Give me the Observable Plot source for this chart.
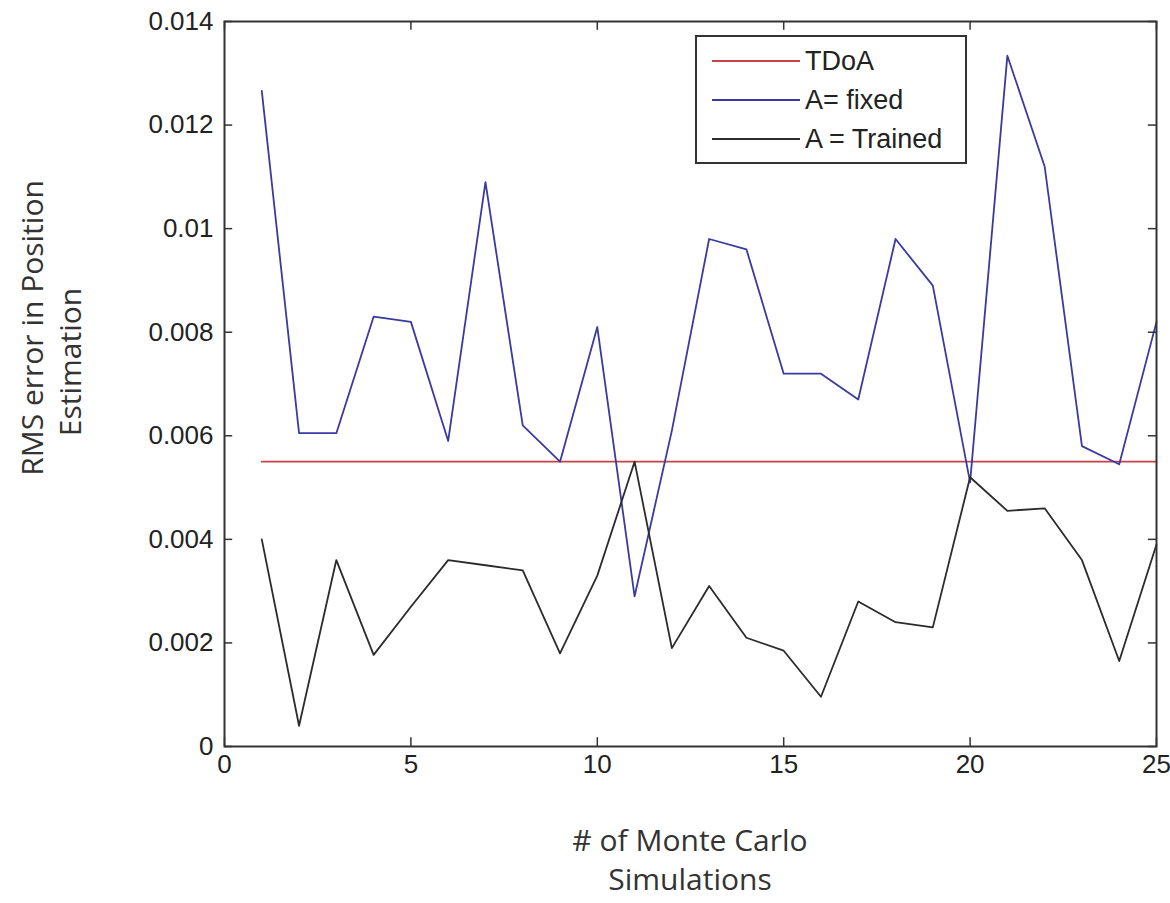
<!DOCTYPE html>
<html>
<head>
<meta charset="utf-8">
<script src="https://cdn.jsdelivr.net/npm/d3@7"></script>
<script src="https://cdn.jsdelivr.net/npm/@observablehq/plot@0.6"></script>
<style>
  body { margin: 0; background: #fff; }
  #wrap { position: relative; width: 1170px; height: 903px; overflow: hidden; }
  #wrap > svg { position: absolute; left: 0; top: 0; }
  #labels { position: absolute; left: 0; top: 0; pointer-events: none; }
  #legend { position: absolute; left: 695px; top: 35px; width: 268px; height: 125px; border: 2px solid #333; background: #fff; font-family: "Liberation Sans", Arial, sans-serif; font-size: 27px; color: #222; }
  #legend .row { position: absolute; left: 15px; height: 40px; display: flex; align-items: center; white-space: nowrap; }
  #legend .sw { width: 88px; height: 0; border-top: 2px solid; margin-right: 5px; }
</style>
</head>
<body>
<div id="wrap"></div>
<script>
const sims = [1,2,3,4,5,6,7,8,9,10,11,12,13,14,15,16,17,18,19,20,21,22,23,24,25];
const tdoa = [0.0055,0.0055,0.0055,0.0055,0.0055,0.0055,0.0055,0.0055,0.0055,0.0055,0.0055,0.0055,0.0055,0.0055,0.0055,0.0055,0.0055,0.0055,0.0055,0.0055,0.0055,0.0055,0.0055,0.0055,0.0055];
const fixedA = [0.01266,0.00605,0.00605,0.0083,0.0082,0.0059,0.0109,0.0062,0.0055,0.0081,0.0029,0.0061,0.0098,0.0096,0.0072,0.0072,0.0067,0.0098,0.0089,0.0051,0.01334,0.0112,0.0058,0.00545,0.0082];
const trainedA = [0.0040,0.0004,0.0036,0.00177,0.0027,0.0036,0.0035,0.0034,0.0018,0.0033,0.0055,0.0019,0.0031,0.0021,0.00185,0.00096,0.0028,0.0024,0.0023,0.0052,0.00455,0.0046,0.0036,0.00165,0.0039];
const seriesNames = ["TDoA", "A= fixed", "A = Trained"];
const seriesColors = ["#c8404a", "#3a3aa0", "#2b2b2b"];
const xTicks = [0,5,10,15,20,25];
const yTicks = [0,0.002,0.004,0.006,0.008,0.01,0.012,0.014];
const xLabel = ["# of Monte Carlo", "Simulations"];
const yLabel = ["RMS error in Position", "Estimation"];

const rows = [];
[tdoa, fixedA, trainedA].forEach((arr, k) => arr.forEach((v, i) => rows.push({sim: sims[i], value: v, series: seriesNames[k]})));

const fmt = d => String(+d.toFixed(3));
const tickLenX = 0.22;      // x-units for y-axis inward ticks
const tickLenY = 0.00017;   // y-units for x-axis inward ticks

const chart = Plot.plot({
  width: 1170,
  height: 903,
  marginLeft: 224,
  marginRight: 14,
  marginTop: 21,
  marginBottom: 157,
  style: {fontFamily: "'Liberation Sans', Arial, sans-serif", fontSize: "26px", color: "#222", background: "transparent"},
  x: {domain: [0, 25]},
  y: {domain: [0, 0.014]},
  color: {domain: seriesNames, range: seriesColors},
  marks: [
    Plot.axisX({ticks: xTicks, tickSize: 0, tickPadding: 8, tickFormat: fmt, label: null, fontSize: 26}),
    Plot.axisY({ticks: yTicks, tickSize: 0, tickPadding: 11, tickFormat: fmt, label: null, fontSize: 26}),
    Plot.line(rows, {x: "sim", y: "value", z: "series", stroke: "series", strokeWidth: 1.8}),
    Plot.ruleX(xTicks, {x: d => d, y1: 0, y2: tickLenY, stroke: "#333", strokeWidth: 1.5}),
    Plot.ruleX(xTicks, {x: d => d, y1: 0.014, y2: 0.014 - tickLenY, stroke: "#333", strokeWidth: 1.5}),
    Plot.ruleY(yTicks, {y: d => d, x1: 0, x2: tickLenX, stroke: "#333", strokeWidth: 1.5}),
    Plot.ruleY(yTicks, {y: d => d, x1: 25, x2: 25 - tickLenX, stroke: "#333", strokeWidth: 1.5}),
    Plot.frame({stroke: "#333", strokeWidth: 2})
  ]
});
const wrap = document.getElementById("wrap");
wrap.appendChild(chart);

// Axis titles (overlay text)
const ns = "http://www.w3.org/2000/svg";
const lab = document.createElementNS(ns, "svg");
lab.setAttribute("id", "labels");
lab.setAttribute("width", 1170);
lab.setAttribute("height", 903);
function addText(str, x, y, rot) {
  const t = document.createElementNS(ns, "text");
  t.textContent = str;
  t.setAttribute("text-anchor", "middle");
  t.setAttribute("font-family", "'Open Sans', sans-serif");
  t.setAttribute("font-size", "30");
  t.setAttribute("fill", "#333");
  if (rot) t.setAttribute("transform", `translate(${x},${y}) rotate(-90)`);
  else { t.setAttribute("x", x); t.setAttribute("y", y); }
  lab.appendChild(t);
}
addText(xLabel[0], 690, 851, false);
addText(xLabel[1], 690, 890, false);
addText(yLabel[0], 43, 328, true);
addText(yLabel[1], 81, 362, true);
wrap.appendChild(lab);

// Legend
const lg = document.createElement("div");
lg.id = "legend";
seriesNames.forEach((n, i) => {
  const r = document.createElement("div");
  r.className = "row";
  r.style.top = (4 + i * 39) + "px";
  r.innerHTML = `<div class="sw" style="border-color:${seriesColors[i]}"></div><span>${n}</span>`;
  lg.appendChild(r);
});
wrap.appendChild(lg);
</script>
</body>
</html>
